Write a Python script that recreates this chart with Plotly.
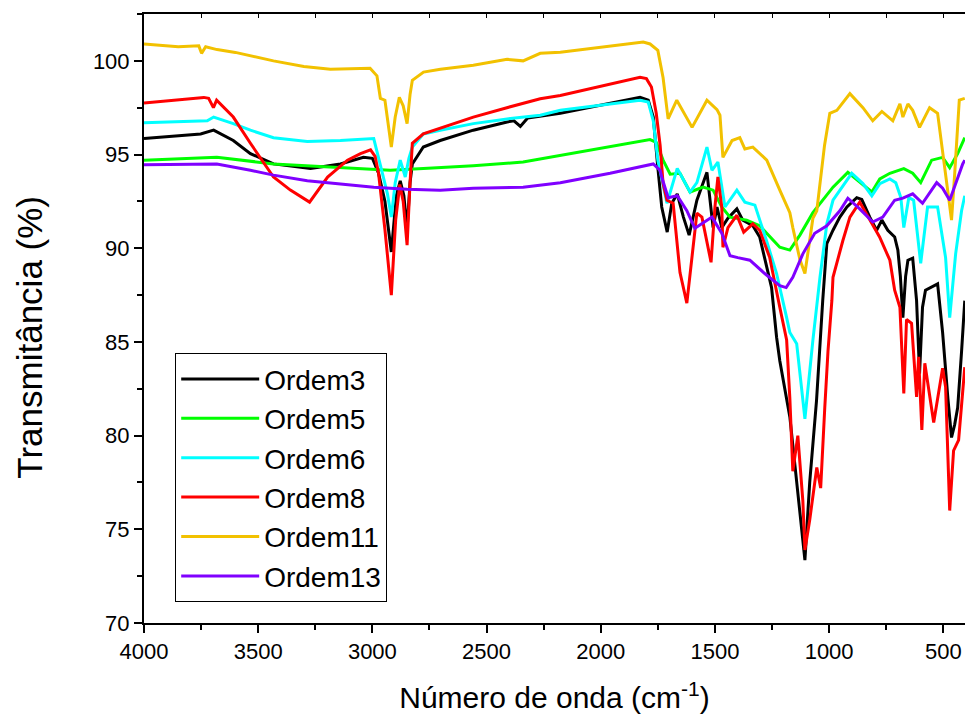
import plotly.graph_objects as go

# ---------------- data ----------------
names = ["Ordem3", "Ordem5", "Ordem6", "Ordem8", "Ordem11", "Ordem13"]
colors = ["#000000", "#00ff00", "#00ffff", "#ff0000", "#f2c100", "#8000ff"]

ordem3_x = [4000, 3752, 3695, 3609, 3534, 3433, 3271, 3140, 3039, 3000, 2973, 2945, 2917, 2895, 2878,
            2862, 2848, 2835, 2825, 2777, 2703, 2558, 2410, 2380, 2352, 2320, 2177, 1828, 1792, 1770,
            1750, 1733, 1709, 1689, 1665, 1638, 1613, 1579, 1535, 1517, 1508, 1491, 1470, 1443, 1404,
            1378, 1334, 1304, 1274, 1252, 1230, 1216, 1172, 1150, 1120, 1106, 1085, 1055, 1028, 1010,
            983, 953, 922, 879, 857, 822, 792, 769, 743, 713, 699, 688, 677, 665, 655, 634, 617, 604,
            591, 578, 525, 503, 480, 464, 450, 437, 420, 406]
ordem3_y = [95.85, 96.1, 96.3, 95.75, 95.05, 94.5, 94.25, 94.5, 94.85, 94.8, 94.0, 92.5, 89.8, 92.8, 93.6,
            92.8, 91.0, 93.5, 94.5, 95.4, 95.75, 96.3, 96.74, 96.8, 96.5, 96.95, 97.2, 98.05, 97.9, 97.0,
            94.3, 92.2, 90.86, 92.4, 92.9, 91.66, 90.7, 92.56, 94.05, 92.2, 91.1, 92.2, 91.1, 91.6, 92.1,
            91.5, 91.2, 90.6, 89.0, 87.9, 85.25, 84.0, 81.0, 78.5, 75.0, 73.36, 77.5, 81.9, 87.2, 90.25,
            90.96, 91.66, 92.2, 92.7, 92.6, 91.66, 90.96, 91.5, 90.96, 90.6, 89.9, 88.5, 86.3, 88.5, 89.36,
            89.47, 87.2, 83.3, 86.85, 87.76, 88.1, 85.5, 82.0, 79.9, 80.6, 81.5, 84.5, 87.2]

ordem5_x = [4000, 3681, 3433, 3140, 2922, 2777, 2558, 2340, 2177, 1784, 1757, 1727, 1696, 1653, 1609,
            1552, 1508, 1470, 1434, 1361, 1304, 1260, 1216, 1172, 1128, 1071, 1028, 983, 918, 874, 813,
            778, 734, 673, 634, 599, 551, 503, 472, 437, 406]
ordem5_y = [94.7, 94.85, 94.5, 94.3, 94.16, 94.25, 94.4, 94.6, 94.95, 95.8, 95.65, 94.7, 93.95, 94.0, 93.0,
            93.26, 93.1, 92.2, 91.66, 91.5, 91.2, 90.6, 90.05, 89.9, 90.7, 91.9, 92.56, 93.26, 94.05, 93.6,
            93.0, 93.7, 94.0, 94.25, 94.0, 93.5, 94.7, 94.85, 94.3, 95.05, 95.9]

ordem6_x = [4000, 3723, 3695, 3609, 3534, 3433, 3285, 3140, 2994, 2980, 2956, 2934, 2917, 2900, 2878,
            2856, 2840, 2825, 2777, 2703, 2558, 2410, 2265, 2177, 1828, 1792, 1770, 1750, 1710, 1665,
            1609, 1579, 1535, 1513, 1487, 1456, 1404, 1369, 1325, 1274, 1230, 1186, 1172, 1142, 1106,
            1071, 1040, 1010, 983, 901, 852, 813, 778, 734, 708, 686, 673, 651, 630, 599, 569, 525, 490,
            472, 446, 420, 406]
ordem6_y = [96.7, 96.8, 97.0, 96.65, 96.3, 95.9, 95.7, 95.75, 95.85, 95.2, 94.0, 92.9, 91.66, 93.5, 94.7,
            93.8, 94.8, 95.4, 96.1, 96.3, 96.65, 96.9, 97.1, 97.36, 97.9, 97.8, 96.8, 94.7, 92.4, 94.26,
            93.0, 93.5, 95.4, 94.16, 94.6, 92.2, 93.1, 92.46, 92.3, 90.4, 88.65, 86.3, 85.5, 84.9, 80.9,
            85.1, 88.45, 91.3, 92.56, 94.0, 93.45, 92.8, 93.45, 93.7, 93.5, 92.7, 91.1, 92.7, 92.56, 89.2,
            92.2, 92.2, 89.5, 86.3, 89.7, 92.0, 92.8]

ordem8_x = [4000, 3738, 3717, 3696, 3682, 3636, 3609, 3534, 3433, 3359, 3275, 3196, 3109, 3052, 3008,
            2988, 2973, 2945, 2917, 2898, 2880, 2865, 2848, 2835, 2825, 2777, 2703, 2558, 2411, 2265,
            2177, 1828, 1800, 1778, 1757, 1740, 1727, 1710, 1683, 1653, 1623, 1600, 1579, 1557, 1535,
            1517, 1500, 1487, 1470, 1465, 1443, 1404, 1374, 1334, 1304, 1260, 1216, 1186, 1172, 1159,
            1137, 1115, 1106, 1085, 1054, 1037, 1019, 1005, 988, 983, 940, 909, 866, 822, 779, 734, 713,
            690, 673, 661, 639, 617, 608, 594, 581, 542, 503, 490, 472, 455, 433, 406]
ordem8_y = [97.75, 98.05, 98.0, 97.5, 97.9, 97.36, 97.0, 95.6, 93.8, 93.1, 92.46, 93.8, 94.7, 95.05, 95.25,
            94.9, 94.0, 91.0, 87.5, 91.5, 93.4, 92.5, 90.16, 93.5, 95.6, 96.1, 96.4, 97.0, 97.5, 97.98,
            98.15, 99.12, 99.05, 98.6, 97.2, 95.5, 93.45, 92.56, 92.4, 88.7, 87.07, 89.5, 91.87, 91.66, 90.43,
            89.25, 92.2, 93.8, 92.2, 90.05, 91.1, 91.76, 90.86, 91.3, 90.96, 89.5, 86.85, 85.1, 82.0, 78.1,
            80.0, 76.5, 73.9, 75.5, 78.3, 77.2, 81.5, 84.5, 87.2, 88.45, 90.4, 91.66, 92.46, 91.5, 90.6,
            89.36, 87.76, 86.85, 82.25, 86.2, 86.0, 82.07, 84.2, 80.3, 83.86, 80.7, 83.6, 82.6, 76.0, 79.2,
            79.76, 83.65]

ordem11_x = [4000, 3850, 3760, 3748, 3730, 3680, 3600, 3433, 3300, 3184, 3010, 2980, 2965, 2945, 2917,
             2900, 2882, 2865, 2848, 2835, 2825, 2776, 2702, 2558, 2410, 2340, 2265, 2177, 1814, 1784,
             1750, 1727, 1705, 1667, 1600, 1535, 1491, 1478, 1465, 1425, 1391, 1369, 1334, 1273, 1216,
             1172, 1159, 1128, 1106, 1071, 1054, 1040, 1020, 997, 966, 909, 852, 809, 769, 721, 690, 677,
             655, 634, 604, 560, 525, 481, 464, 450, 430, 406]
ordem11_y = [100.9, 100.75, 100.8, 100.4, 100.75, 100.6, 100.45, 100.0, 99.7, 99.55, 99.6, 99.2, 98.0, 97.9, 95.4,
             97.0, 98.05, 97.6, 96.65, 98.2, 98.96, 99.4, 99.55, 99.76, 100.08, 100.0, 100.4, 100.46, 101.0, 100.9,
             100.56, 99.1, 96.9, 97.9, 96.45, 97.9, 97.4, 97.1, 94.85, 95.75, 95.9, 95.3, 95.4, 94.7, 93.1,
             91.9, 91.1, 89.4, 88.65, 91.6, 92.0, 93.5, 95.5, 97.2, 97.36, 98.25, 97.5, 96.8, 97.3, 96.8, 97.7, 97.0,
             97.7, 97.36, 96.45, 97.5, 97.2, 93.1, 91.5, 94.0, 97.9, 98.0]

ordem13_x = [4000, 3681, 3534, 3433, 3285, 3140, 2994, 2848, 2703, 2558, 2340, 2177, 1959, 1770, 1740,
             1733, 1705, 1665, 1623, 1588, 1513, 1470, 1434, 1400, 1347, 1282, 1216, 1188, 1159, 1115,
             1063, 1010, 953, 918, 866, 809, 765, 713, 677, 634, 591, 529, 503, 472, 446, 415, 406]
ordem13_y = [94.45, 94.5, 94.16, 93.9, 93.6, 93.45, 93.26, 93.15, 93.1, 93.2, 93.26, 93.5, 94.0, 94.5, 94.16,
             93.8, 92.7, 92.8, 92.0, 91.06, 91.66, 90.8, 89.6, 89.5, 89.36, 88.65, 88.0, 87.9, 88.45, 89.7,
             90.8, 91.2, 92.0, 92.67, 92.1, 91.4, 91.66, 92.56, 92.67, 92.9, 92.4, 93.5, 93.2, 92.56, 93.5,
             94.5, 94.7]

xs = [ordem3_x, ordem5_x, ordem6_x, ordem8_x, ordem11_x, ordem13_x]
ys = [ordem3_y, ordem5_y, ordem6_y, ordem8_y, ordem11_y, ordem13_y]

x_ticks = [4000, 3500, 3000, 2500, 2000, 1500, 1000, 500]
y_ticks = [70, 75, 80, 85, 90, 95, 100]

FONT = "Liberation Sans, Arial, sans-serif"

fig = go.Figure()
for name, color, x, y in zip(names, colors, xs, ys):
    fig.add_trace(go.Scatter(x=x, y=y, mode="lines", name=name,
                             line=dict(color=color, width=3)))

# dummy trace for the top (inner-tick) axis
fig.add_trace(go.Scatter(x=[None], y=[None], xaxis="x2", showlegend=False, hoverinfo="skip"))

fig.update_layout(
    width=965, height=720,
    margin=dict(l=144, r=0, t=14, b=97),
    plot_bgcolor="white", paper_bgcolor="white",
    font=dict(family=FONT, color="black"),
    showlegend=True,
    legend=dict(x=0.038, y=0.443, xanchor="left", yanchor="top",
                bordercolor="black", borderwidth=1, bgcolor="white",
                font=dict(size=28, family=FONT), tracegroupgap=0, itemwidth=78),
    xaxis=dict(range=[4000, 405], tickvals=x_ticks, ticks="outside", ticklen=8, tickwidth=2,
               tickcolor="black", showline=True, linecolor="black", linewidth=2, mirror=True,
               showgrid=False, zeroline=False, tickfont=dict(size=22, family=FONT),
               minor=dict(dtick=250, ticks="outside", ticklen=5, tickwidth=2, tickcolor="black"),
               title=dict(text="Número de onda (cm<sup>-1</sup>)", font=dict(size=30, family=FONT),
                          standoff=24)),
    xaxis2=dict(range=[4000, 405], overlaying="x", side="top", dtick=250, tick0=0,
                ticks="inside", ticklen=4, tickwidth=1, tickcolor="black",
                showticklabels=False, showline=False, showgrid=False, zeroline=False),
    yaxis=dict(range=[70, 102.5], tickvals=y_ticks, ticks="outside", ticklen=8, tickwidth=2,
               tickcolor="black", showline=True, linecolor="black", linewidth=2,
               showgrid=False, zeroline=False, tickfont=dict(size=22, family=FONT),
               minor=dict(dtick=2.5, ticks="outside", ticklen=5, tickwidth=2, tickcolor="black")),
    annotations=[dict(text="Transmitância (%)", textangle=-90, showarrow=False,
                      xref="paper", yref="paper", x=-0.139, y=0.47,
                      xanchor="center", yanchor="middle",
                      font=dict(size=35, family=FONT, color="black"))],
)

fig.write_html("out.html")
